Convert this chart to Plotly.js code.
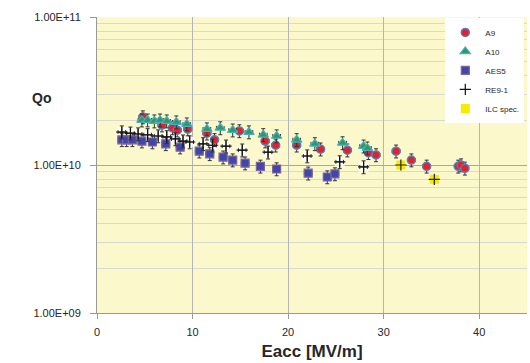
<!DOCTYPE html>
<html>
<head>
<meta charset="utf-8">
<script src="https://cdn.plot.ly/plotly-3.0.1.min.js"></script>
<style>html,body{margin:0;padding:0;background:#fff;}#chart{width:530px;height:363px;}</style>
</head>
<body>
<div id="chart"></div>
<script>
// A9
const a9E = [4.8, 6.8, 7.9, 8.4, 9.5, 11.5, 12.3, 14.9, 17.6, 18.7, 20.9, 23.4, 26.2, 28.4, 29.2, 31.3, 32.9, 34.5, 37.8, 38.1, 38.5];
const a9Q = [2.11e10, 1.86e10, 1.78e10, 1.72e10, 1.75e10, 1.64e10, 1.48e10, 1.70e10, 1.45e10, 1.36e10, 1.36e10, 1.28e10, 1.26e10, 1.21e10, 1.17e10, 1.24e10, 1.08e10, 0.98e10, 0.98e10, 1.00e10, 0.95e10];
// A10
const a10E = [4.7, 5.3, 6.0, 6.6, 7.3, 8.3, 9.4, 11.5, 12.9, 14.2, 15.9, 17.4, 18.8, 20.9, 22.8, 25.7, 27.9, 28.3];
const a10Q = [2.01e10, 2.01e10, 1.98e10, 2.01e10, 1.98e10, 1.95e10, 1.89e10, 1.75e10, 1.78e10, 1.72e10, 1.67e10, 1.60e10, 1.57e10, 1.48e10, 1.39e10, 1.41e10, 1.34e10, 1.30e10];
// AES5
const aesE = [2.6, 3.1, 3.7, 4.7, 5.8, 7.2, 8.7, 10.7, 11.8, 13.2, 14.2, 15.5, 17.1, 18.8, 22.1, 24.1, 24.9];
const aesQ = [1.48e10, 1.48e10, 1.48e10, 1.45e10, 1.43e10, 1.39e10, 1.32e10, 1.24e10, 1.19e10, 1.13e10, 1.08e10, 1.03e10, 0.98e10, 0.94e10, 0.88e10, 0.83e10, 0.87e10];
// RE9-1
const reE = [2.6, 3.5, 4.3, 5.3, 6.4, 7.3, 8.2, 9.0, 9.7, 11.1, 12.1, 13.5, 15.2, 17.9, 22.0, 25.4, 27.9];
const reQ = [1.67e10, 1.64e10, 1.62e10, 1.60e10, 1.57e10, 1.55e10, 1.50e10, 1.45e10, 1.43e10, 1.39e10, 1.36e10, 1.34e10, 1.26e10, 1.22e10, 1.15e10, 1.05e10, 0.97e10];
// ILC spec.
const ilcE = [31.8, 35.3];
const ilcQ = [1.0e10, 0.8e10];

const yTickVals = [1e9, 1e10, 1e11];
const yTickText = ['1.00E+09', '1.00E+10', '1.00E+11'];
const xTickVals = [0, 10, 20, 30, 40];

const errY = {type: 'percent', value: 10, color: '#333', thickness: 1, width: 2};
const errX = {type: 'constant', value: 0.4, color: '#333', thickness: 1, width: 2};

const traces = [
  {x: reE, y: reQ, name: 'RE9-1 bg', mode: 'markers', type: 'scatter', showlegend: false,
   marker: {symbol: 'square', size: 10, color: 'rgba(255,255,255,0.75)', line: {width: 0}}},
  {x: a9E, y: a9Q, name: 'A9', mode: 'markers', type: 'scatter',
   marker: {symbol: 'circle', size: 8, color: '#ee1c24', line: {color: '#4f81bd', width: 1.5}},
   error_y: errY, error_x: errX},
  {x: a10E, y: a10Q, name: 'A10', mode: 'markers', type: 'scatter',
   marker: {symbol: 'triangle-up', size: 9, color: '#2f9a5c', line: {color: '#4bacc6', width: 1.2}},
   error_y: errY, error_x: errX},
  {x: aesE, y: aesQ, name: 'AES5', mode: 'markers', type: 'scatter',
   marker: {symbol: 'square', size: 8, color: '#3f48a8', line: {color: '#8064a2', width: 1.2}},
   error_y: errY, error_x: errX},
  {x: reE, y: reQ, name: 'RE9-1', mode: 'markers', type: 'scatter',
   marker: {symbol: 'cross-thin-open', size: 8, color: '#111', line: {color: '#111', width: 1.2}},
   error_y: errY, error_x: errX},
  {x: ilcE, y: ilcQ, name: 'ILC spec.', mode: 'markers', type: 'scatter', legendgroup: 'ilc',
   marker: {symbol: 'square', size: 9, color: '#f5ea00', line: {color: '#f5ea00', width: 0}}},
  {x: ilcE, y: ilcQ, name: 'ILC spec.', mode: 'markers', type: 'scatter', legendgroup: 'ilc', showlegend: false,
   marker: {symbol: 'cross-thin-open', size: 8, color: '#222', line: {color: '#222', width: 1.2}}}
];

const layout = {
  width: 530, height: 363,
  margin: {l: 97, r: 3, t: 17, b: 50},
  paper_bgcolor: '#ffffff',
  plot_bgcolor: '#fbf8cc',
  font: {family: 'Liberation Sans, Arial, sans-serif', size: 11, color: '#262626'},
  showlegend: true,
  legend: {x: 0.81, y: 0.997, xanchor: 'left', yanchor: 'top', bgcolor: '#ffffff',
           borderwidth: 0, font: {size: 8, color: '#262626'}, itemwidth: 30, tracegroupgap: 0,
           traceorder: 'normal'},
  xaxis: {range: [0, 45], tickmode: 'array', tickvals: xTickVals, ticks: 'outside', ticklen: 5,
          tickcolor: '#999', showline: true, linecolor: '#999', linewidth: 1, zeroline: false,
          showgrid: true, gridcolor: '#b5b5b5', gridwidth: 1, ticklabelstandoff: 4,
          title: {text: 'Eacc [MV/m]', font: {size: 17, color: '#262626', family: 'Liberation Sans, Arial, sans-serif', weight: 'bold'}, standoff: 7}},
  yaxis: {type: 'log', range: [9, 11], tickmode: 'array', tickvals: yTickVals, ticktext: yTickText,
          ticks: 'outside', ticklen: 6, tickcolor: '#999', showline: true, linecolor: '#999', linewidth: 1,
          showgrid: true, gridcolor: '#a6a6a6', gridwidth: 1, ticklabelstandoff: 7,
          minor: {dtick: 'D1', showgrid: true, gridcolor: '#d9d9d0', gridwidth: 1, ticks: ''}},
  annotations: [
    {text: '<b>Qo</b>', xref: 'paper', yref: 'paper', x: -0.155, y: 0.76, showarrow: false,
     font: {size: 14, color: '#262626'}}
  ]
};

Plotly.newPlot('chart', traces, layout, {displayModeBar: false, staticPlot: true});
</script>
</body>
</html>
